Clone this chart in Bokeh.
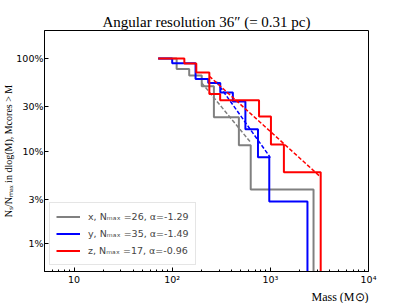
from bokeh.plotting import figure
from bokeh.models import FixedTicker, Legend, LegendItem, Range1d, CustomJSTickFormatter, Title
from bokeh.embed import file_html
from bokeh.resources import INLINE

# ---------------- data ----------------
start_mass = 72.0                      # lowest mass of the cumulative curves
floor_value = 1e-3                     # "zero" on the log axis (below view)

x_edges = [111, 149, 200, 266, 478, 631, 2754]
x_counts = [26, 20, 17, 13, 6, 3, 1]
x_nmax = 26
x_alpha = -1.29
x_fit_mass = [200, 627]
x_fit_norm = 0.544

y_edges = [100, 173, 233, 309, 415, 557, 748, 975, 2388]
y_counts = [35, 31, 21, 19, 15, 12, 6, 3, 1]
y_nmax = 35
y_alpha = -1.49
y_fit_mass = [282, 1000]
y_fit_norm = 0.56

z_edges = [133, 176, 239, 308, 767, 1014, 1374, 3258]
z_counts = [17, 15, 12, 7, 6, 4, 2, 1]
z_nmax = 17
z_alpha = -0.96
z_fit_mass = [239, 3260]
z_fit_norm = 0.642

series_names = ["x", "y", "z"]
series_colors = ["#808080", "#0000ff", "#ff0000"]

x_tick_values = [10, 100, 1000, 10000]
x_tick_labels = ["10", "10²", "10³", "10⁴"]
y_tick_values = [0.01, 0.03, 0.1, 0.3, 1.0]
y_tick_labels = ["1%", "3%", "10%", "30%", "100%"]

title_text = "Angular resolution 36″ (= 0.31 pc)"
x_label_text = "Mass (M⊙)"
y_label_text = "Nₛ/Nₘₐₓ in dlog(M), Mcores > M"

# ---------------- figure ----------------
W, H = 407, 303
p = figure(width=W, height=H, x_axis_type="log", y_axis_type="log",
           x_range=Range1d(5, 10000), y_range=Range1d(0.005, 2.0),
           output_backend="svg", toolbar_location=None, title=None,
           min_border_left=42, min_border_right=39, min_border_top=30, min_border_bottom=32)
p.background_fill_color = "white"
p.border_fill_color = "white"
p.outline_line_color = "black"
p.outline_line_width = 1
p.xgrid.visible = False
p.ygrid.visible = False

nearest_code = """
let best = 0;
for (let i = 0; i < tv.length; i++) {
  if (Math.abs(Math.log(tv[i]) - Math.log(tick)) < Math.abs(Math.log(tv[best]) - Math.log(tick))) best = i;
}
return tl[best];
"""
minor_x = [k * 10 ** e for e in range(0, 4) for k in range(2, 10) if 5 < k * 10 ** e < 10000]
p.xaxis.ticker = FixedTicker(ticks=x_tick_values, minor_ticks=minor_x)
p.xaxis.formatter = CustomJSTickFormatter(args=dict(tv=x_tick_values, tl=x_tick_labels), code=nearest_code)
p.yaxis.ticker = FixedTicker(ticks=y_tick_values, minor_ticks=[])
p.yaxis.formatter = CustomJSTickFormatter(args=dict(tv=y_tick_values, tl=y_tick_labels), code=nearest_code)

for ax in (p.xaxis, p.yaxis):
    ax.axis_line_color = "black"
    ax.major_tick_line_color = "black"
    ax.minor_tick_line_color = "black"
    ax.major_tick_in = 4
    ax.major_tick_out = 0
    ax.minor_tick_in = 2
    ax.minor_tick_out = 0
    ax.major_label_text_font = "DejaVu Sans"
    ax.major_label_text_font_size = "9.5px"
    ax.major_label_text_color = "black"
p.xaxis.major_label_standoff = 2
p.yaxis.major_label_standoff = 1

# ---------------- curves ----------------
all_edges = [x_edges, y_edges, z_edges]
all_counts = [x_counts, y_counts, z_counts]
all_nmax = [x_nmax, y_nmax, z_nmax]
all_alpha = [x_alpha, y_alpha, z_alpha]
all_fit_mass = [x_fit_mass, y_fit_mass, z_fit_mass]
all_fit_norm = [x_fit_norm, y_fit_norm, z_fit_norm]

items = []
for name, col, edges, counts, nmax, alpha, fm, fn in zip(series_names, series_colors, all_edges, all_counts,
                                                          all_nmax, all_alpha, all_fit_mass, all_fit_norm):
    xs = [start_mass] + list(edges)
    ys = [c / nmax for c in counts] + [floor_value]
    r = p.step(xs, ys, mode="after", line_color=col, line_width=2)
    fy = [fn * (m / fm[0]) ** alpha for m in fm]
    p.line(fm, fy, line_color=col, line_width=1.5, line_dash="4 2")
    label = f"{name}, Nₘₐₓ ={nmax}, α={alpha:.2f}"
    items.append(LegendItem(label=label, renderers=[r]))

legend = Legend(items=items, location=(5, 6), orientation="vertical",
                label_text_font="DejaVu Sans", label_text_font_size="9.5px",
                glyph_width=24, glyph_height=15, label_height=15, spacing=2,
                padding=6, margin=0, label_standoff=8,
                border_line_color="#cccccc", border_line_width=1,
                background_fill_color="white", background_fill_alpha=0.85)
p.add_layout(legend)

# ---------------- title and axis labels (as side-panel titles) ----------------
p.add_layout(Title(text=title_text, align="center", text_font="Liberation Serif",
                   text_font_size="15px", text_font_style="normal", text_color="black",
                   standoff=2), "above")
p.add_layout(Title(text=x_label_text, align="right", text_font="Liberation Serif",
                   text_font_size="12px", text_font_style="normal", text_color="black",
                   standoff=0), "below")
p.add_layout(Title(text=y_label_text, align="center", text_font="Liberation Serif",
                   text_font_size="10px", text_font_style="normal", text_color="black",
                   standoff=0), "left")

open("out.html", "w").write(file_html(p, INLINE))
